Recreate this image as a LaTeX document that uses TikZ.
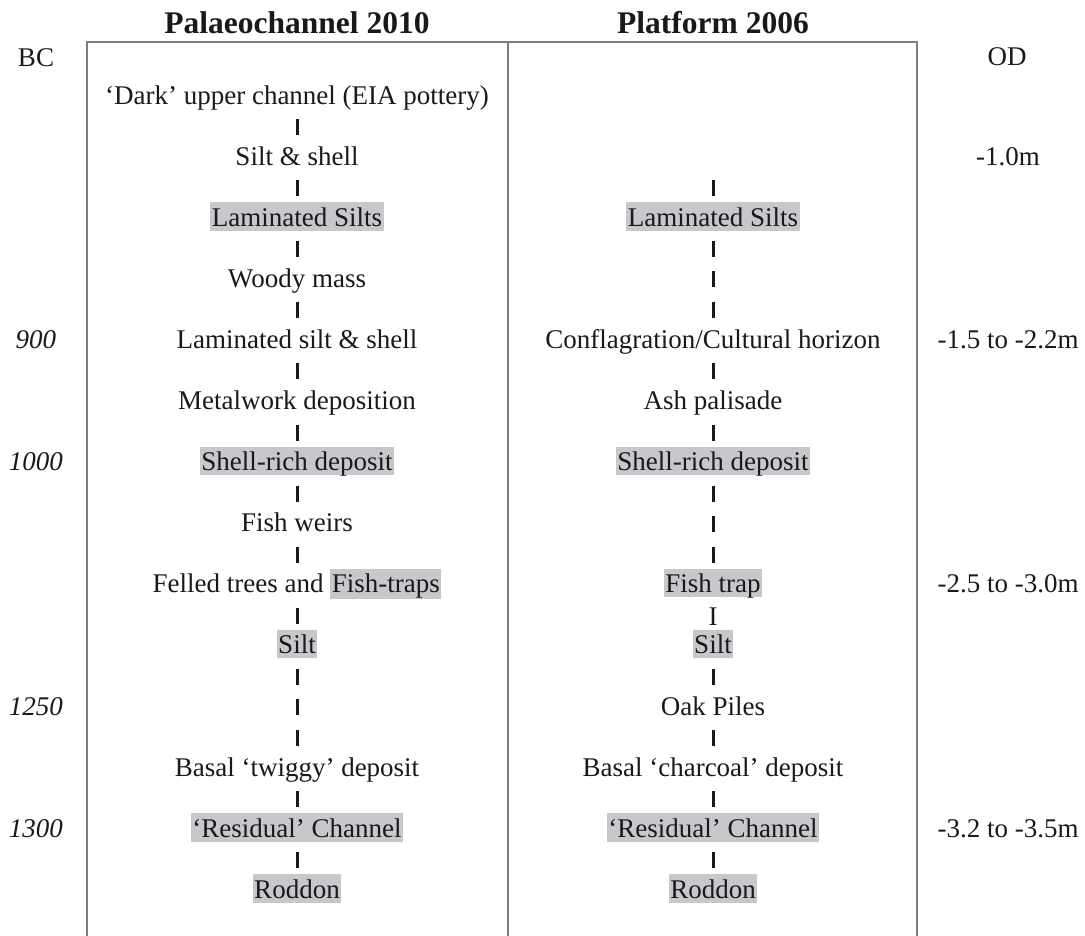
\documentclass[tikz,border=0pt]{standalone}
\usepackage{fontspec}
\setmainfont{Liberation Serif}
\usetikzlibrary{calc}
\definecolor{hlgray}{RGB}{200,200,204}
\definecolor{framegray}{RGB}{125,125,125}
\definecolor{ink}{RGB}{25,25,25}
\newcommand\hlpart[1]{{\setlength{\fboxsep}{0pt}\colorbox{hlgray}{\rule[-4.5pt]{0pt}{28.5pt}\hspace{1.5pt}#1\hspace{1.5pt}}}}
\begin{document}
\begin{tikzpicture}[x=1pt,y=-1pt,
 lbl/.style={anchor=base, inner xsep=1.5pt, inner ysep=0pt, text height=24pt, text depth=4.5pt, font=\fontsize{27}{30}\selectfont, text=ink},
 hl/.style={lbl, fill=hlgray},
 side/.style={anchor=base, inner sep=0pt, font=\fontsize{27}{30}\selectfont, text=ink},
 year/.style={side, font=\fontsize{27}{30}\selectfont\itshape},
 title/.style={anchor=base, inner sep=0pt, font=\fontsize{31.5}{34}\selectfont\bfseries, text=ink},
 bar/.style={rectangle, fill=ink, draw=none, inner sep=0pt, minimum width=3pt, minimum height=16pt},
 frame/.style={draw=framegray, line width=1.8pt}]
\useasboundingbox (0,0) rectangle (1085,936);
% frame
\draw[frame] (87,936) -- (87,42) -- (917,42) -- (917,936);
\draw[frame] (508,42) -- (508,936);
% titles
\node[title] (t1) at (297,33.5) {Palaeochannel 2010};
\node[title] (t2) at (713,33.5) {Platform 2006};
% side labels
\node[side] (bc) at (36,67) {BC};
\node[side] (od) at (1007,66) {OD};
\node[year] (y900) at (36,348.4) {900};
\node[year] (y1000) at (36,470.6) {1000};
\node[year] (y1250) at (36,715.0) {1250};
\node[year] (y1300) at (36,837.2) {1300};
\node[side] (d1) at (1008,165.1) {-1.0m};
\node[side] (d2) at (1008,348.4) {-1.5 to -2.2m};
\node[side] (d3) at (1008,592.8) {-2.5 to -3.0m};
\node[side] (d4) at (1008,837.2) {-3.2 to -3.5m};
% left column
\node[lbl] (L0) at (297,105.0) {`Dark' upper channel (EIA pottery)};
\node[lbl] (L1) at (297,165.1) {Silt \& shell};
\node[hl]  (L2) at (297,226.2) {Laminated Silts};
\node[lbl] (L3) at (297,287.3) {Woody mass};
\node[lbl] (L4) at (297,348.4) {Laminated silt \& shell};
\node[lbl] (L5) at (297,409.5) {Metalwork deposition};
\node[hl]  (L6) at (297,470.6) {Shell-rich deposit};
\node[lbl] (L7) at (297,531.7) {Fish weirs};
\node[lbl] (L8) at (297,592.8) {Felled trees and \hlpart{Fish-traps}};
\node[hl]  (L9) at (297,653.9) {Silt};
\node[lbl] (L11) at (297,776.1) {Basal `twiggy' deposit};
\node[hl]  (L12) at (297,837.2) {`Residual' Channel};
\node[hl]  (L13) at (297,898.3) {Roddon};
\foreach \k in {0,...,12}
  \node[bar] (Lb\k) at (297,{103+61.1*\k+24}) {};
\node[bar] (Lf10) at (297,707.0) {};
% right column
\node[hl]  (R2) at (713,226.2) {Laminated Silts};
\node[lbl] (R4) at (713,348.4) {Conflagration/Cultural horizon};
\node[lbl] (R5) at (713,409.5) {Ash palisade};
\node[hl]  (R6) at (713,470.6) {Shell-rich deposit};
\node[hl]  (R8) at (713,592.8) {Fish trap};
\node[side] (RI) at (713,625.5) {I};
\node[hl]  (R9) at (713,653.9) {Silt};
\node[lbl] (R10) at (713,715.0) {Oak Piles};
\node[lbl] (R11) at (713,776.1) {Basal `charcoal' deposit};
\node[hl]  (R12) at (713,837.2) {`Residual' Channel};
\node[hl]  (R13) at (713,898.3) {Roddon};
\foreach \k in {1,2,3,4,5,6,7,9,10,11,12}
  \node[bar] (Rb\k) at (713,{103+61.1*\k+24}) {};
\node[bar] (Rf3) at (713,279.3) {};
\node[bar] (Rf7) at (713,523.7) {};
\end{tikzpicture}
\end{document}
